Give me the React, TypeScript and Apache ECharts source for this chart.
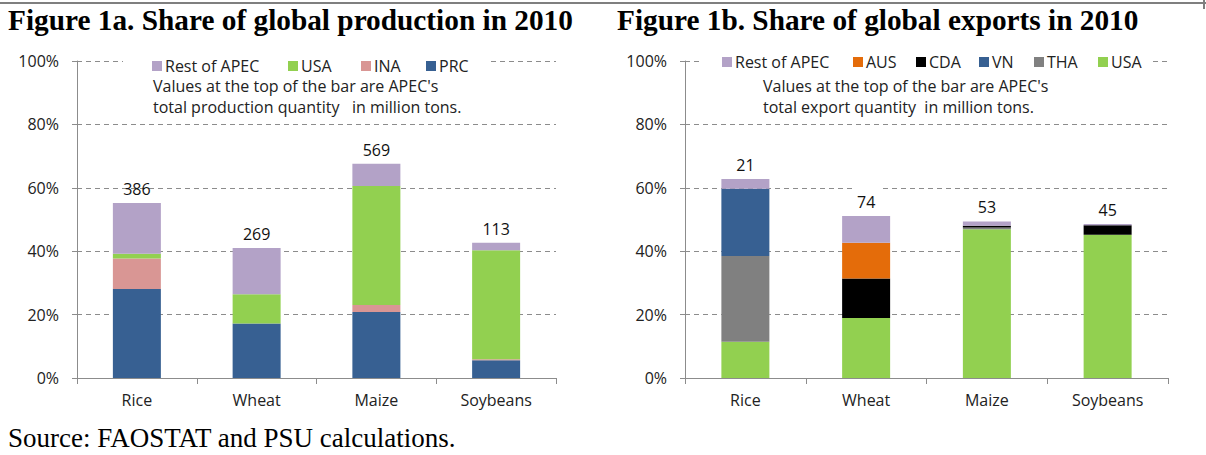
import React, { useEffect, useRef } from "react";
import * as echarts from "echarts";

const categories = ["Rice", "Wheat", "Maize", "Soybeans"];

// Figure 1a: share of global production (%)
const prodPRC = [28.1, 17.2, 20.8, 5.6];
const prodINA = [9.6, 0, 2.2, 0.3];
const prodUSA = [1.5, 9.2, 37.6, 34.4];
const prodRest = [16.0, 14.6, 7.0, 2.4];
const prodTotals = [386, 269, 569, 113];

// Figure 1b: share of global exports (%)
const expUSA = [11.4, 18.9, 46.9, 45.2];
const expTHA = [27.1, 0, 0.6, 0];
const expVN = [21.2, 0, 0, 0];
const expCDA = [0, 12.5, 0.5, 3.0];
const expAUS = [0, 11.3, 0, 0];
const expRest = [3.1, 8.4, 1.4, 0.4];
const expTotals = [21, 74, 53, 45];

const yTicks = [0, 20, 40, 60, 80, 100];

const C = {
  rest: "#B3A2C7",
  usa: "#92D050",
  ina: "#D99694",
  prc: "#376092",
  aus: "#E46C0A",
  cda: "#000000",
  vn: "#376092",
  tha: "#808080",
};

const FONT = "Open Sans";
const FS = 16;

export default function App() {
  const ref = useRef<HTMLDivElement>(null);
  useEffect(() => {
    if (!ref.current) return;
    const chart = echarts.init(ref.current, undefined, { renderer: "svg" });

    const yAxisBase = (gridIndex: number) => ({
      type: "value",
      gridIndex,
      min: yTicks[0],
      max: yTicks[yTicks.length - 1],
      interval: 20,
      axisLine: { show: true, lineStyle: { color: "#8c8c8c", width: 1 } },
      axisTick: { show: true, length: 5, lineStyle: { color: "#8c8c8c" } },
      axisLabel: {
        formatter: "{value}%",
        fontFamily: FONT,
        fontSize: FS,
        color: "#222",
        margin: 18,
      },
      splitLine: {
        show: true,
        lineStyle: { color: "#8c8c8c", type: [5, 4], width: 1 },
      },
    });
    const xAxisBase = (gridIndex: number) => ({
      type: "category",
      gridIndex,
      data: categories,
      axisLine: { show: true, lineStyle: { color: "#8c8c8c", width: 1 } },
      axisTick: { show: true, length: 6, lineStyle: { color: "#8c8c8c" } },
      axisLabel: { fontFamily: FONT, fontSize: FS, color: "#222", margin: 14 },
    });

    const topLabel = (totals: number[]) => ({
      show: true,
      position: "top",
      distance: 6,
      fontFamily: FONT,
      fontSize: FS,
      color: "#111",
      formatter: (p: any) => String(totals[p.dataIndex]),
    });

    const bar = (
      name: string,
      data: number[],
      color: string,
      idx: number,
      stack: string,
      label?: any
    ) => ({
      name,
      type: "bar",
      xAxisIndex: idx,
      yAxisIndex: idx,
      stack,
      barWidth: 48,
      data,
      itemStyle: { color },
      label: label || { show: false },
    });

    const legendItem = (name: string, left: number, top: number) => ({
      data: [name],
      left,
      top,
      padding: 0,
      itemWidth: 10,
      itemHeight: 10,
      icon: "rect",
      selectedMode: false,
      textStyle: { fontFamily: FONT, fontSize: FS, color: "#222", padding: [0, 0, 0, -2] },
    });

    const legendTopL = 58;
    const legendTopR = 54;

    chart.setOption({
      animation: false,
      backgroundColor: "#fff",
      grid: [
        { left: 77, top: 61, width: 479, height: 317 },
        { left: 685, top: 61, width: 483, height: 317 },
      ],
      xAxis: [xAxisBase(0), xAxisBase(1)],
      yAxis: [yAxisBase(0), yAxisBase(1)],
      legend: [
        legendItem("Rest of APEC", 152, legendTopL),
        legendItem("USA", 288, legendTopL),
        legendItem("INA", 361, legendTopL),
        legendItem("PRC", 426, legendTopL),
        legendItem("Rest of APEC", 722, legendTopR),
        legendItem("AUS", 853, legendTopR),
        legendItem("CDA", 916, legendTopR),
        legendItem("VN", 979, legendTopR),
        legendItem("THA", 1034, legendTopR),
        legendItem("USA", 1098, legendTopR),
      ],
      graphic: [
        {
          type: "line",
          z: 10,
          shape: { x1: 0, y1: 3, x2: 1206, y2: 3 },
          style: { stroke: "#7f7f7f", lineWidth: 2 },
        },
        {
          type: "line",
          z: 10,
          shape: { x1: 1204, y1: 0, x2: 1204, y2: 9 },
          style: { stroke: "#7f7f7f", lineWidth: 2 },
        },
        {
          type: "rect",
          z: 3,
          shape: { x: 123, y: 55, width: 368, height: 12 },
          style: { fill: "#fff" },
        },
        {
          type: "rect",
          z: 3,
          shape: { x: 703, y: 55, width: 450, height: 12 },
          style: { fill: "#fff" },
        },
        {
          type: "rect",
          z: 3,
          shape: { x: 853, y: 183, width: 29, height: 8 },
          style: { fill: "#fff" },
        },
        {
          type: "text",
          z: 10,
          left: 8,
          top: 5,
          style: {
            text: "Figure 1a. Share of global production in 2010",
            font: "bold 29.3px 'Liberation Serif'",
            fill: "#000",
          },
        },
        {
          type: "text",
          z: 10,
          left: 617,
          top: 5,
          style: {
            text: "Figure 1b. Share of global exports in 2010",
            font: "bold 29.3px 'Liberation Serif'",
            fill: "#000",
          },
        },
        {
          type: "text",
          z: 10,
          left: 8,
          top: 424,
          style: {
            text: "Source: FAOSTAT and PSU calculations.",
            font: "27px 'Liberation Serif'",
            fill: "#000",
          },
        },
        {
          type: "text",
          z: 10,
          left: 153,
          top: 78,
          style: {
            text: "Values at the top of the bar are APEC's",
            font: `${FS}px '${FONT}'`,
            fill: "#222",
          },
        },
        {
          type: "text",
          z: 10,
          left: 153,
          top: 99,
          style: {
            text: "total production quantity   in million tons.",
            font: `${FS}px '${FONT}'`,
            fill: "#222",
          },
        },
        {
          type: "text",
          z: 10,
          left: 763,
          top: 78,
          style: {
            text: "Values at the top of the bar are APEC's",
            font: `${FS}px '${FONT}'`,
            fill: "#222",
          },
        },
        {
          type: "text",
          z: 10,
          left: 763,
          top: 99,
          style: {
            text: "total export quantity  in million tons.",
            font: `${FS}px '${FONT}'`,
            fill: "#222",
          },
        },
      ],
      series: [
        bar("PRC", prodPRC, C.prc, 0, "p"),
        bar("INA", prodINA, C.ina, 0, "p"),
        bar("USA", prodUSA, C.usa, 0, "p"),
        bar("Rest of APEC", prodRest, C.rest, 0, "p", topLabel(prodTotals)),
        bar("USA", expUSA, C.usa, 1, "e"),
        bar("THA", expTHA, C.tha, 1, "e"),
        bar("VN", expVN, C.vn, 1, "e"),
        bar("CDA", expCDA, C.cda, 1, "e"),
        bar("AUS", expAUS, C.aus, 1, "e"),
        bar("Rest of APEC", expRest, C.rest, 1, "e", topLabel(expTotals)),
      ],
    });
    return () => chart.dispose();
  }, []);

  return (
    <div
      ref={ref}
      style={{ position: "fixed", left: 0, top: 0, width: 1206, height: 455 }}
    />
  );
}
